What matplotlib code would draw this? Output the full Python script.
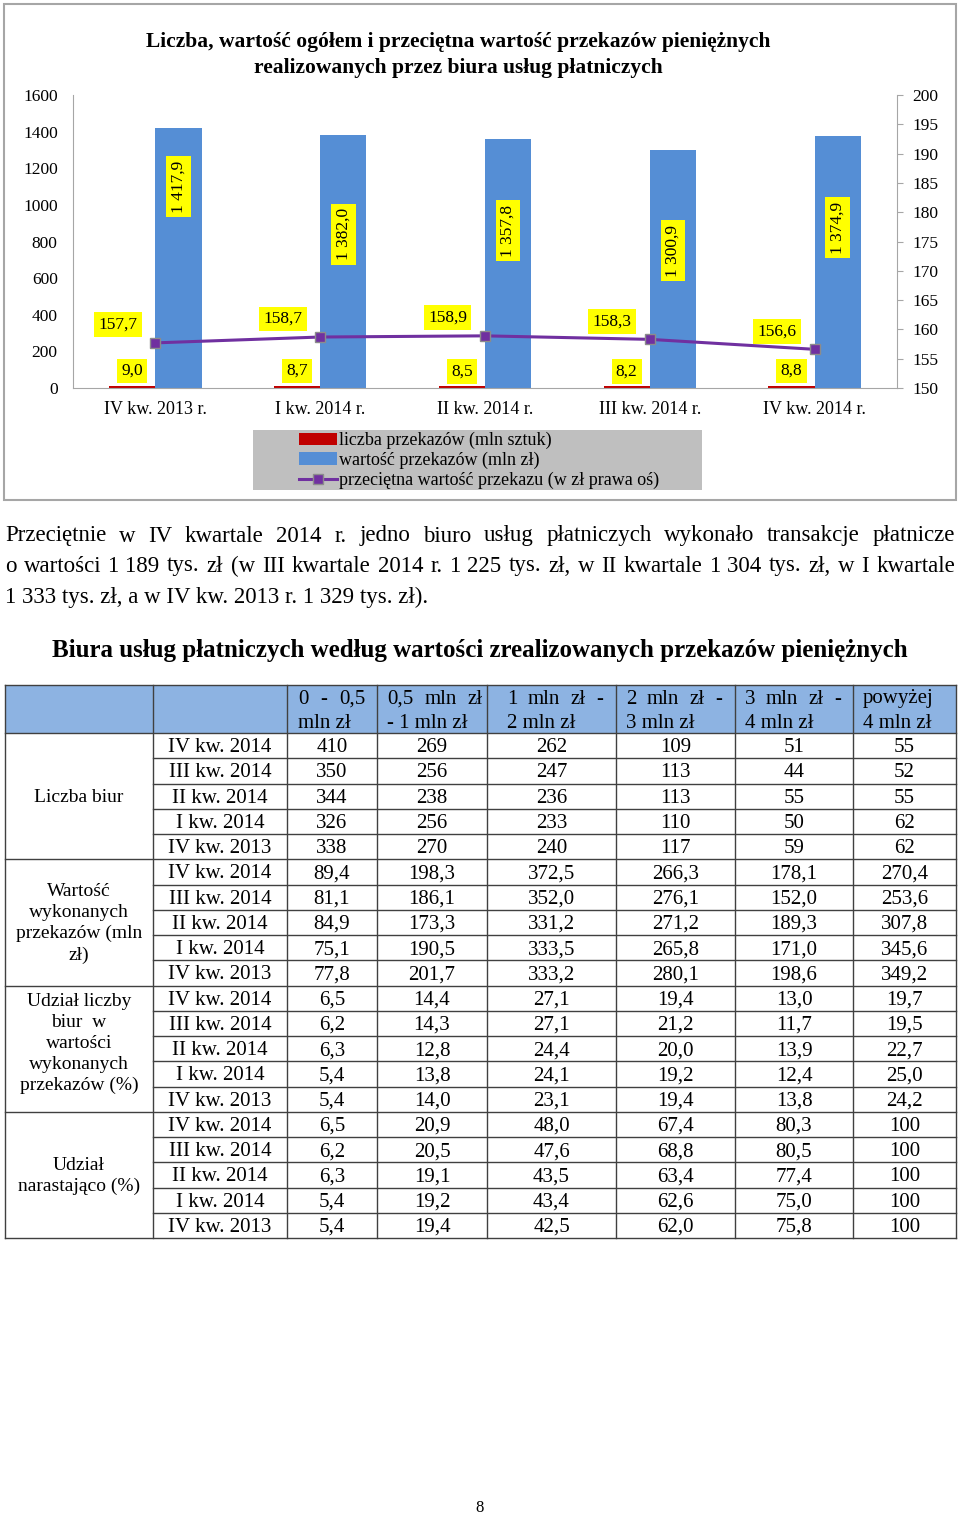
import numpy as np
import matplotlib
matplotlib.use("Agg")
import matplotlib.pyplot as plt
from matplotlib.patches import Rectangle

plt.rcParams['font.family'] = ['Liberation Serif', 'DejaVu Serif']

# --- chart data
kwartaly = ["IV kw. 2013 r.", "I kw. 2014 r.", "II kw. 2014 r.", "III kw. 2014 r.", "IV kw. 2014 r."]
liczba_przek = [9.0, 8.7, 8.5, 8.2, 8.8]
wartosc_przek = [1417.9, 1382.0, 1357.8, 1300.9, 1374.9]
przecietna = [157.7, 158.7, 158.9, 158.3, 156.6]

# --- table data
kw_tab = ["IV kw. 2014", "III kw. 2014", "II kw. 2014", "I kw. 2014", "IV kw. 2013"]
przedzialy = [("0 - 0,5", "mln zł"), ("0,5 mln zł", "- 1 mln zł"), ("1 mln zł -", "2 mln zł"),
              ("2 mln zł -", "3 mln zł"), ("3 mln zł -", "4 mln zł"), ("powyżej", "4 mln zł")]
grupy = ["Liczba biur", "Wartość\nwykonanych\nprzekazów (mln\nzł)",
         "Udział liczby\nbiur  w\nwartości\nwykonanych\nprzekazów (%)", "Udział\nnarastająco (%)"]
liczba_biur = [[410, 269, 262, 109, 51, 55],
               [350, 256, 247, 113, 44, 52],
               [344, 238, 236, 113, 55, 55],
               [326, 256, 233, 110, 50, 62],
               [338, 270, 240, 117, 59, 62]]
wartosc_biur = [[89.4, 198.3, 372.5, 266.3, 178.1, 270.4],
                [81.1, 186.1, 352.0, 276.1, 152.0, 253.6],
                [84.9, 173.3, 331.2, 271.2, 189.3, 307.8],
                [75.1, 190.5, 333.5, 265.8, 171.0, 345.6],
                [77.8, 201.7, 333.2, 280.1, 198.6, 349.2]]
udzial_liczby = [[6.5, 14.4, 27.1, 19.4, 13.0, 19.7],
                 [6.2, 14.3, 27.1, 21.2, 11.7, 19.5],
                 [6.3, 12.8, 24.4, 20.0, 13.9, 22.7],
                 [5.4, 13.8, 24.1, 19.2, 12.4, 25.0],
                 [5.4, 14.0, 23.1, 19.4, 13.8, 24.2]]
udzial_narast = [[6.5, 20.9, 48.0, 67.4, 80.3, 100],
                 [6.2, 20.5, 47.6, 68.8, 80.5, 100],
                 [6.3, 19.1, 43.5, 63.4, 77.4, 100],
                 [5.4, 19.2, 43.4, 62.6, 75.0, 100],
                 [5.4, 19.4, 42.5, 62.0, 75.8, 100]]

akapit = ["Przeciętnie w IV kwartale 2014 r. jedno biuro usług płatniczych wykonało transakcje płatnicze",
          "o wartości 1\u00a0189 tys. zł (w III kwartale 2014 r. 1\u00a0225 tys. zł, w II kwartale 1\u00a0304 tys. zł, w I kwartale",
          "1\u00a0333 tys. zł, a w IV kw. 2013 r. 1\u00a0329 tys. zł)."]


def fmt(v):
    if isinstance(v, int):
        return str(v)
    return f"{v:,.1f}".replace(",", " ").replace(".", ",")


W, H = 960, 1515
fig = plt.figure(figsize=(W / 100, H / 100), dpi=100)
page = fig.add_axes([0, 0, 1, 1])
page.set_xlim(0, W)
page.set_ylim(H, 0)
page.axis('off')
renderer = fig.canvas.get_renderer()


def fig_box(x0, y0, x1, y1):
    return [x0 / W, 1 - y1 / H, (x1 - x0) / W, (y1 - y0) / H]


def justify(text, x0, x1, y, **kw):
    words = text.split(' ')
    arts = [page.text(x0, y, w, ha='left', va='center', **kw) for w in words]
    if len(arts) < 2:
        return
    widths = [a.get_window_extent(renderer).width for a in arts]
    gap = (x1 - x0 - sum(widths)) / (len(words) - 1)
    pos = x0
    for a, w in zip(arts, widths):
        a.set_x(pos)
        pos += w + gap


# ---------------- chart
page.add_patch(Rectangle((4, 4), 952, 496, fill=False, ec='#A6A6A6', lw=1.5))
page.text(458, 42, "Liczba, wartość ogółem i przeciętna wartość przekazów pieniężnych",
          ha='center', va='center', fontsize=15.5, weight='bold')
page.text(458, 68, "realizowanych przez biura usług płatniczych",
          ha='center', va='center', fontsize=15.5, weight='bold')

x = np.arange(len(kwartaly))
bw = 0.28
ax = fig.add_axes(fig_box(73, 95, 897, 388))
ax.set_facecolor('none')
ax.bar(x - bw / 2, liczba_przek, bw, color='#C00000', label='liczba przekazów (mln sztuk)')
ax.bar(x + bw / 2, wartosc_przek, bw, color='#558ED5', label='wartość przekazów (mln zł)')
ax.set_xlim(-0.5, 4.5)
ax.set_ylim(0, 1600)
ax.set_yticks(range(0, 1601, 200))
ax.set_xticks(x, kwartaly)
ax.tick_params(axis='both', length=0, labelsize=12.5)
ax.tick_params(axis='x', pad=9, labelsize=13)
ax.tick_params(axis='y', pad=11)
for s in ['top', 'right']:
    ax.spines[s].set_visible(False)
for s in ['left', 'bottom']:
    ax.spines[s].set_color('#A6A6A6')

yellow = dict(boxstyle='square,pad=0.25', fc='#FFFF00', ec='none')
for i, v in enumerate(liczba_przek):
    ax.annotate(fmt(v), (x[i] - bw / 2, v), xytext=(0, 11), textcoords='offset points',
                ha='center', va='center', fontsize=12.5, bbox=yellow, zorder=5)
blue_label_y = [1100, 840, 860, 750, 875]
for i, v in enumerate(wartosc_przek):
    ax.text(x[i] + bw / 2, blue_label_y[i], fmt(v), rotation=90, ha='center', va='center',
            fontsize=12.5, bbox=yellow, zorder=5)

ax2 = ax.twinx()
ax2.plot(x, przecietna, color='#7030A0', lw=2.2, marker='s', ms=6.5, mfc='#7030A0',
         mec='#8C8C8C', mew=1, label='przeciętna wartość przekazu (w zł prawa oś)')
ax2.set_ylim(150, 200)
ax2.set_yticks(range(150, 201, 5))
ax2.tick_params(axis='y', length=4, color='#A6A6A6', labelsize=12.5, pad=7)
for s in ['top', 'left', 'bottom']:
    ax2.spines[s].set_visible(False)
ax2.spines['right'].set_color('#A6A6A6')
for i, v in enumerate(przecietna):
    ax2.annotate(fmt(v), (x[i], v), xytext=(-27, 13), textcoords='offset points',
                 ha='center', va='center', fontsize=12.5, bbox=yellow)

page.add_patch(Rectangle((253, 430), 449, 60, fc='#BFBFBF', ec='none'))
h1, l1 = ax.get_legend_handles_labels()
h2, l2 = ax2.get_legend_handles_labels()
fig.legend(h1 + h2, l1 + l2, loc='upper left', bbox_to_anchor=(299 / W, 1 - 432 / H),
           frameon=False, fontsize=13, handlelength=2.1, handletextpad=0.1,
           labelspacing=0.14, borderaxespad=0, borderpad=0)

# ---------------- paragraph
justify(akapit[0], 5, 955, 536, fontsize=16.5)
justify(akapit[1], 5, 955, 566, fontsize=16.5)
page.text(5, 597, akapit[2], ha='left', va='center', fontsize=16.5)

page.text(480, 650, "Biura usług płatniczych według wartości zrealizowanych przekazów pieniężnych",
          ha='center', va='center', fontsize=18, weight='bold')

# ---------------- table
cols = [5, 153, 287, 377, 487, 616, 735, 853, 956]
head_pad = [11, 10, 20, 10, 10, 10]
head_rpad = [12, 4, 13, 13, 12, 0]
top, head_bot, row_h = 685, 733, 25.25
n_rows = 20
bottom = head_bot + n_rows * row_h
line_kw = dict(color='#404040', lw=1.0)

page.add_patch(Rectangle((cols[0], top), cols[-1] - cols[0], head_bot - top, fc='#8DB3E2', ec='none'))
for j, (l1_, l2_) in enumerate(przedzialy):
    c0, c1 = cols[j + 2], cols[j + 3]
    justify(l1_, c0 + head_pad[j], c1 - head_rpad[j], 699, fontsize=15)
    page.text(c0 + head_pad[j], 723, l2_, ha='left', va='center', fontsize=15)

sections = [liczba_biur, wartosc_biur, udzial_liczby, udzial_narast]
for g, block in enumerate(sections):
    g_mid = head_bot + (g * 5 + 2.5) * row_h + 1
    if g == 2:
        g_mid -= 6
    page.text((cols[0] + cols[1]) / 2, g_mid, grupy[g], ha='center', va='center',
              fontsize=14, linespacing=1.3)
    for r, row in enumerate(block):
        yc = head_bot + (g * 5 + r + 0.5) * row_h + 2
        page.text((cols[1] + cols[2]) / 2, yc, kw_tab[r], ha='center', va='center', fontsize=15)
        for j, v in enumerate(row):
            page.text((cols[j + 2] + cols[j + 3]) / 2, yc, fmt(v), ha='center', va='center', fontsize=15)

for k in range(1, n_rows):
    yk = head_bot + k * row_h
    x_start = cols[0] if k % 5 == 0 else cols[1]
    page.plot([x_start, cols[-1]], [yk, yk], **line_kw)
for yk in [top, head_bot, bottom]:
    page.plot([cols[0], cols[-1]], [yk, yk], **line_kw)
for c in cols:
    page.plot([c, c], [top, bottom], **line_kw)

page.text(480, 1508, "8", ha='center', va='center', fontsize=12)

fig.savefig('out.png', dpi=100)
